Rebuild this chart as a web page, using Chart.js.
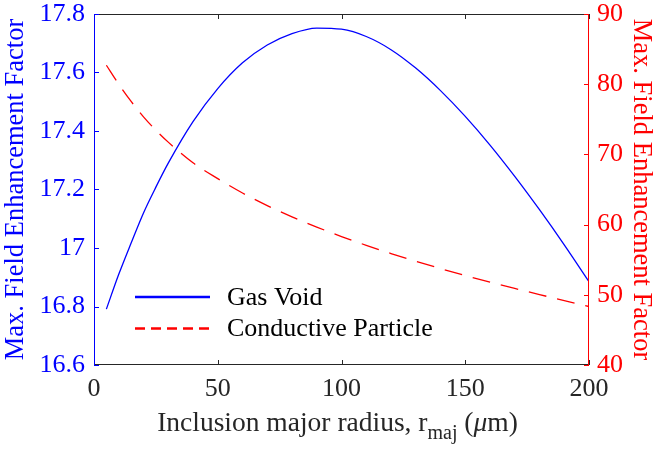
<!DOCTYPE html>
<html>
<head>
<meta charset="utf-8">
<script src="https://cdn.jsdelivr.net/npm/chart.js@4.4.1/dist/chart.umd.min.js"></script>
<style>
  html, body { margin: 0; padding: 0; background: #fff; }
  #wrap { width: 657px; height: 450px; position: relative; }
</style>
</head>
<body>
<div id="wrap"><canvas id="grafica"></canvas></div>
<script>
    // radio mayor de la inclusion (um)
    const radios = [5, 10, 15, 20, 25, 30, 40, 50, 60, 70, 80, 90, 100, 110, 120, 130, 140, 150, 160, 170, 180, 190, 200];
    const vacioGas = [16.791, 16.910, 17.017, 17.120, 17.208, 17.290, 17.432, 17.545, 17.633, 17.694, 17.733, 17.752, 17.748, 17.723, 17.678, 17.615, 17.538, 17.450, 17.352, 17.245, 17.131, 17.011, 16.885];
    const particula = [82.7, 80.0, 77.55, 75.35, 73.45, 71.75, 68.8, 66.55, 64.5, 62.7, 61.1, 59.65, 58.3, 57.05, 55.88, 54.78, 53.74, 52.75, 51.8, 50.9, 50.03, 49.18, 48.33];
    const ticksX = [0, 50, 100, 150, 200];

    const fuente = "'Liberation Serif', 'Times New Roman', serif";
    const gris = '#262626';

    // sin relleno extra por las etiquetas
    function sinRelleno(s) {
        s.paddingTop = 0;
        s.paddingBottom = 0;
        s.paddingLeft = 0;
        s.paddingRight = 0;
    }

    // caja de ejes con marcas hacia adentro, titulo x y leyenda
    const cajaEjes = {
        id: 'cajaEjes',
        afterDraw(chart) {
            const ctx = chart.ctx;
            const a = chart.chartArea;
            const sx = chart.scales.x, sy = chart.scales.y, sy1 = chart.scales.y1;
            const tk = 5;
            ctx.save();
            ctx.lineWidth = 1;

            ctx.strokeStyle = gris;
            ctx.beginPath();
            ctx.moveTo(a.left, a.top + 0.5); ctx.lineTo(a.right, a.top + 0.5);
            ctx.moveTo(a.left, a.bottom - 0.5); ctx.lineTo(a.right, a.bottom - 0.5);
            ticksX.forEach(v => {
                const px = Math.round(sx.getPixelForValue(v)) + 0.5;
                ctx.moveTo(px, a.top); ctx.lineTo(px, a.top + tk);
                ctx.moveTo(px, a.bottom); ctx.lineTo(px, a.bottom - tk);
            });
            ctx.stroke();

            ctx.strokeStyle = '#0000ff';
            ctx.beginPath();
            ctx.moveTo(a.left + 0.5, a.top); ctx.lineTo(a.left + 0.5, a.bottom);
            sy.ticks.forEach(t => {
                const py = Math.round(sy.getPixelForValue(t.value)) + 0.5;
                ctx.moveTo(a.left, py); ctx.lineTo(a.left + tk, py);
            });
            ctx.stroke();

            ctx.strokeStyle = '#ff0000';
            ctx.beginPath();
            ctx.moveTo(a.right - 0.5, a.top); ctx.lineTo(a.right - 0.5, a.bottom);
            sy1.ticks.forEach(t => {
                const py = Math.round(sy1.getPixelForValue(t.value)) + 0.5;
                ctx.moveTo(a.right, py); ctx.lineTo(a.right - tk, py);
            });
            ctx.stroke();

            // titulo eje x con subindice
            const t1 = 'Inclusion major radius, r';
            const sub = 'maj';
            const t2 = ' (';
            const mu = '\u03bc';
            const t3 = 'm)';
            const fN = '27.5px ' + fuente, fS = '20px ' + fuente, fI = 'italic 27.5px ' + fuente;
            ctx.font = fN; const w1 = ctx.measureText(t1).width, w2 = ctx.measureText(t2).width, w3 = ctx.measureText(t3).width;
            ctx.font = fS; const ws = ctx.measureText(sub).width;
            ctx.font = fI; const wm = ctx.measureText(mu).width;
            let x = (a.left + a.right) / 2 - (w1 + ws + w2 + wm + w3) / 2 - 4;
            const yb = 431;
            ctx.fillStyle = gris;
            ctx.textBaseline = 'alphabetic';
            ctx.textAlign = 'left';
            ctx.font = fN; ctx.fillText(t1, x, yb); x += w1;
            ctx.font = fS; ctx.fillText(sub, x, yb + 8); x += ws;
            ctx.font = fN; ctx.fillText(t2, x, yb); x += w2;
            ctx.font = fI; ctx.fillText(mu, x, yb); x += wm;
            ctx.font = fN; ctx.fillText(t3, x, yb);

            // leyenda
            ctx.font = '26px ' + fuente;
            ctx.textBaseline = 'middle';
            chart.data.datasets.forEach((ds, i) => {
                const y = 297 + i * 31.5;
                ctx.strokeStyle = ds.borderColor;
                ctx.lineWidth = 2.5;
                ctx.setLineDash(i === 0 ? [] : [10, 6]);
                ctx.beginPath();
                ctx.moveTo(135, y); ctx.lineTo(210, y);
                ctx.stroke();
                ctx.setLineDash([]);
                ctx.fillStyle = '#000';
                ctx.fillText(ds.label, 227, y + 1);
            });
            ctx.restore();
        }
    };

    const ctx = document.getElementById('grafica');

    new Chart(ctx, {
        type: 'line',
        data: {
            labels: radios,
            datasets: [{
                label: 'Gas Void',
                data: radios.map((r, i) => ({x: r, y: vacioGas[i]})),
                borderColor: '#0000ff',
                borderWidth: 1.3,
                pointRadius: 0,
                cubicInterpolationMode: 'monotone',
                yAxisID: 'y'
            }, {
                label: 'Conductive Particle',
                data: radios.map((r, i) => ({x: r, y: particula[i]})),
                borderColor: '#ff0000',
                borderWidth: 1.3,
                borderDash: [18, 11],
                pointRadius: 0,
                cubicInterpolationMode: 'monotone',
                yAxisID: 'y1'
            }]
        },
        options: {
            responsive: true,
            maintainAspectRatio: false,
            animation: false,
            layout: { padding: { top: 14, left: 0, right: 0, bottom: 0 } },
            scales: {
                x: {
                    type: 'linear',
                    min: 0, max: 200,
                    afterBuildTicks: s => { s.ticks = ticksX.map(v => ({value: v})); },
                    afterFit: s => { s.height = 85; sinRelleno(s); },
                    grid: { display: false, drawTicks: false },
                    border: { display: false },
                    ticks: { color: gris, padding: 9, font: { family: fuente, size: 26 } }
                },
                y: {
                    position: 'left',
                    min: 16.6, max: 17.8,
                    afterFit: s => { s.width = 94; sinRelleno(s); },
                    grid: { display: false, drawTicks: false },
                    border: { display: false },
                    ticks: {
                        stepSize: 0.2,
                        color: '#0000ff',
                        padding: 9,
                        font: { family: fuente, size: 26 },
                        callback: v => String(Math.round(v * 10) / 10)
                    },
                    title: {
                        display: true,
                        text: 'Max. Field Enhancement Factor',
                        color: '#0000ff',
                        padding: 0,
                        font: { family: fuente, size: 26.5 }
                    }
                },
                y1: {
                    position: 'right',
                    min: 40, max: 90,
                    afterFit: s => { s.width = 68; sinRelleno(s); },
                    grid: { display: false, drawTicks: false },
                    border: { display: false },
                    ticks: {
                        stepSize: 10,
                        color: '#ff0000',
                        padding: 8,
                        font: { family: fuente, size: 26 }
                    },
                    title: {
                        display: true,
                        text: 'Max. Field Enhancement Factor',
                        color: '#ff0000',
                        padding: 0,
                        font: { family: fuente, size: 26.5 }
                    }
                }
            },
            plugins: {
                legend: { display: false },
                tooltip: { enabled: false }
            }
        },
        plugins: [cajaEjes]
    });
</script>
</body>
</html>
